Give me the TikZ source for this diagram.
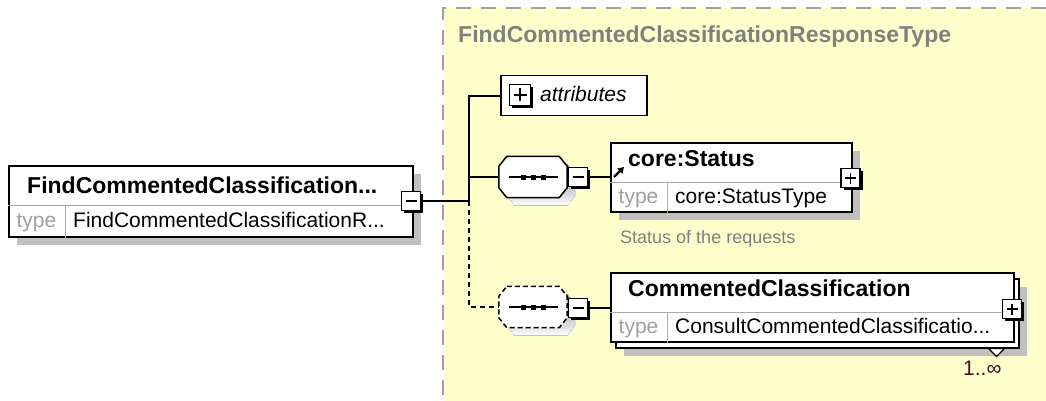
\documentclass[tikz,border=0pt]{standalone}
\usepackage{fontspec}
\setmainfont{Liberation Sans}
\usepackage{tikz}
\usetikzlibrary{positioning,calc,shadows,arrows.meta}
\definecolor{typeyellow}{RGB}{255,255,204}
\definecolor{shade}{RGB}{192,192,192}
\definecolor{framegray}{RGB}{160,160,160}
\definecolor{titlegray}{RGB}{128,128,128}
\definecolor{linegray}{RGB}{170,170,170}
\definecolor{occurs}{RGB}{70,10,50}
\newcommand{\xsdname}{\fontsize{23}{27}\selectfont\bfseries}
\newcommand{\xsdval}{\fontsize{21}{25}\selectfont}
\newcommand{\xsddoc}{\fontsize{18}{22}\selectfont}
% octagon round a compositor node: node, dx, dy
\newcommand{\octpath}[3]{([shift={(8+#2,#3)}]#1.north west) -- ([shift={(-8+#2,#3)}]#1.north east)
    -- ([shift={(#2,10+#3)}]#1.north east) -- ([shift={(#2,-10+#3)}]#1.south east)
    -- ([shift={(-8+#2,#3)}]#1.south east) -- ([shift={(8+#2,#3)}]#1.south west)
    -- ([shift={(#2,-10+#3)}]#1.south west) -- ([shift={(#2,10+#3)}]#1.north west) -- cycle}
\newcommand{\seqsym}[1]{\draw[line width=1.5pt] ([xshift=10pt]#1.west) -- ([xshift=-9pt]#1.east);
    \foreach \d in {-10,0,10}
        \fill ([xshift=\d pt]#1.center) ++(-2.5pt,-2.5pt) rectangle ++(5pt,5pt);}

\begin{document}
\begin{tikzpicture}[x=1pt, y=-1pt,
    elbox/.style={draw, fill=white, line width=1.5pt, rectangle, inner sep=0pt,
        drop shadow={shadow xshift=8pt, shadow yshift=-8pt, opacity=1, fill=shade}},
    elplain/.style={draw, fill=white, line width=1.5pt, rectangle, inner sep=0pt},
    divider/.style={draw=linegray, line width=1pt},
    txt/.style={anchor=base west, inner sep=0pt},
    typelabel/.style={anchor=base, inner sep=0pt, text=framegray, font=\xsdval},
    btn/.style={draw, fill=white, line width=1.3pt, minimum size=19pt, inner sep=0pt,
        drop shadow={shadow xshift=2.5pt, shadow yshift=-2.5pt, opacity=1, fill=black}},
    minusbtn/.style={btn, path picture={
        \draw[line width=1.4pt] ([xshift=4pt]path picture bounding box.west) -- ([xshift=-4pt]path picture bounding box.east);}},
    plusbtn/.style={btn, path picture={
        \draw[line width=1.4pt] ([xshift=4pt]path picture bounding box.west) -- ([xshift=-4pt]path picture bounding box.east);
        \draw[line width=1.4pt] ([yshift=4pt]path picture bounding box.south) -- ([yshift=-4pt]path picture bounding box.north);}},
    seq/.style={minimum width=68pt, minimum height=41pt, inner sep=0pt},
    seqline/.style={draw, fill=white, line width=1.5pt},
    conn/.style={line width=1.8pt},
    optconn/.style={line width=1.8pt, dash pattern=on 5pt off 4pt}
]
\useasboundingbox (0,0) rectangle (1046,401);

\fill[typeyellow] (443,8) rectangle (1046,401);
\draw[framegray, line width=2pt, dash pattern=on 15pt off 10pt] (1046,8) -- (443,8) -- (443,401);
\node[txt, text=titlegray, font=\xsdname] (ctitle) at (458,43) {FindCommentedClassificationResponseType};

\node[elbox, anchor=north west, minimum width=404pt, minimum height=71pt] (root) at (8,165) {};
\draw[divider] ($(root.north west)+(0,40)$) -- ($(root.north east)+(0,40)$);
\draw[divider] ($(root.north west)+(57,40)$) -- ($(root.south west)+(57,0)$);
\node[txt, font=\xsdname] (rootname) at (27,193) {FindCommentedClassification...};
\node[typelabel] (roottype) at (36.5,227) {type};
\node[txt, font=\xsdval] (rootval) at (73,227) {FindCommentedClassificationR...};
\node[minusbtn] (rootbtn) at (411,201) {};

\coordinate (fork) at (469,201);

\node[draw, fill=white, line width=1.5pt, anchor=north west, minimum width=146pt, minimum height=40pt] (attrs) at (500,75) {};
\node[plusbtn, minimum size=21pt] (attrsbtn) at (520,95) {};
\node[txt, font=\xsdval\itshape] (attrslabel) at (540,102) {attributes};

\node[seq] (seq1) at (533,177) {};
\fill[shade] \octpath{seq1}{8}{8};
\draw[seqline] \octpath{seq1}{0}{0};
\seqsym{seq1}
\node[minusbtn] (seq1btn) at (578,177) {};

\node[elbox, anchor=north west, minimum width=241pt, minimum height=69pt] (status) at (610,142) {};
\draw[divider] ($(status.north west)+(0,40)$) -- ($(status.north east)+(0,40)$);
\draw[divider] ($(status.north west)+(57,40)$) -- ($(status.south west)+(57,0)$);
\draw[line width=2.4pt, -{Triangle[length=6pt,width=7pt]}] ($(status.north west)+(4,35)$) -- ++(10,-10);
\node[txt, font=\xsdname] (statusname) at (628,166) {core:Status};
\node[typelabel] (statustype) at (638.5,203) {type};
\node[txt, font=\xsdval] (statusval) at (675,203) {core:StatusType};
\node[plusbtn] (statusbtn) at (850.5,178) {};
\node[txt, font=\xsddoc, text=titlegray] (statusdoc) at (620,243) {Status of the requests};

\node[seq] (seq2) at (533,307) {};
\fill[shade] \octpath{seq2}{8}{8};
\draw[seqline, dash pattern=on 5pt off 3pt] \octpath{seq2}{0}{0};
\seqsym{seq2}
\node[minusbtn] (seq2btn) at (578,308) {};

\node[elbox, anchor=north west, minimum width=403pt, minimum height=69pt] (clsback) at (615,278) {};
\node[elplain, anchor=north west, minimum width=403pt, minimum height=69pt] (cls) at (610,272) {};
\draw[divider] ($(cls.north west)+(0,40)$) -- ($(cls.north east)+(0,40)$);
\draw[divider] ($(cls.north west)+(57,40)$) -- ($(cls.south west)+(57,0)$);
\node[txt, font=\xsdname] (clsname) at (628,296) {CommentedClassification};
\node[typelabel] (clstype) at (638.5,333) {type};
\node[txt, font=\xsdval] (clsval) at (675,333) {ConsultCommentedClassificatio...};
\node[plusbtn] (clsbtn) at (1012,309) {};
\draw[line width=1.2pt, fill=white] ($(clsback.south east)+(-31,0)$) -- ++(16,0) -- ++(-8,8) -- cycle;
\node[txt, font=\xsdval, text=occurs] (clsoccurs) at (963,375) {1..∞};

\draw[conn] (rootbtn) -- (fork);
\draw[conn] (fork) |- (attrs);
\draw[conn] (fork) |- (seq1);
\draw[optconn] (fork) |- (seq2);
\draw[conn] (seq1btn) -- (seq1btn -| status.west);
\draw[conn] (seq2btn) -- (seq2btn -| cls.west);
\end{tikzpicture}
\end{document}
